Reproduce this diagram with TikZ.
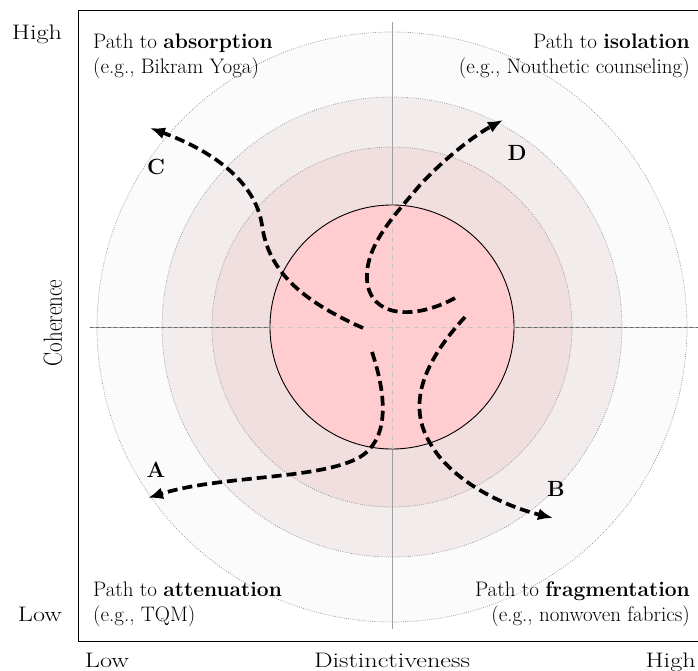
\documentclass[tikz,border=0pt]{standalone}
\usetikzlibrary{arrows.meta}

\definecolor{core}{RGB}{255,204,207}
\definecolor{ringone}{RGB}{241,223,224}
\definecolor{ringtwo}{RGB}{243,236,237}
\definecolor{ringthree}{RGB}{252,251,251}

\begin{document}
\begin{tikzpicture}[
    x=1pt, y=1pt,
    >=Latex, % LaTeX arrows
    % Styles
    ring/.style={ % Dotted rings round the core
        draw=gray!85,
        dash pattern=on 0.8pt off 1.4pt,
        line width=0.7pt
    },
    axisline/.style={
        draw=gray!75,
        line width=0.9pt
    },
    inaxis/.style={ % Axes across the core
        draw=gray!45,
        dash pattern=on 5pt off 4pt,
        line width=0.8pt
    },
    trail/.style={ % Dashed paths out of the core
        -{Latex[length=15pt,width=12pt]},
        line width=3.7pt,
        dash pattern=on 10pt off 5pt
    },
    axlabel/.style={ % Low / High and axis names
        font=\fontsize{21}{25}\selectfont,
        xscale=1.25,
        transform shape,
        inner sep=0pt
    },
    quad/.style={ % Quadrant captions
        font=\fontsize{21}{25}\selectfont,
        inner sep=0pt
    },
    letter/.style={
        font=\fontsize{22}{26}\selectfont\bfseries,
        inner sep=0pt
    }
]
    \useasboundingbox (-392,-343) rectangle (306,327);

    % Rings
    \coordinate (O) at (0,0);
    \fill[ringthree] (O) circle (295);
    \draw[ring] (O) circle (295);
    \fill[ringtwo] (O) circle (230);
    \draw[ring] (O) circle (230);
    \fill[ringone] (O) circle (180);
    \draw[ring] (O) circle (180);

    % Axes
    \coordinate (xl) at (-302,0);
    \coordinate (xr) at (306,0);
    \coordinate (yt) at (0,305);
    \coordinate (yb) at (0,-302);
    \draw[axisline] (yb) -- (yt);
    \draw[axisline] (xl) -- (xr);
    \draw[black!60, dashed, line width=0.5pt] (xl) -- (xr);

    % Core
    \node[circle, draw, fill=core, line width=0.9pt, minimum size=244pt, inner sep=0pt] (core) at (O) {};
    \draw[inaxis] (core.west) -- (core.east);
    \draw[inaxis] (core.south) -- (core.north);

    % Frame
    \draw[line width=1pt] (306,316) -| (-313,-314) -- (306,-314);

    % Axis labels
    \node[axlabel, anchor=base] (hightop) at (-355,287) {High};
    \node[axlabel, anchor=base] (lowleft) at (-352,-294) {Low};
    \node[axlabel, anchor=base] (lowbottom) at (-285,-340) {Low};
    \node[axlabel, anchor=base] (xname) at (0,-340) {Distinctiveness};
    \node[axlabel, anchor=base east] (highright) at (304,-340) {High};
    \node[axlabel, rotate=90] (yname) at (-339,4) {Coherence};

    % Quadrant captions
    \node[quad, anchor=north west, align=left] (absorb) at (-299,293)
        {Path to \textbf{absorption}\\(e.g., Bikram Yoga)};
    \node[quad, anchor=north east, align=right] (isol) at (298,293)
        {Path to \textbf{isolation}\\(e.g., Nouthetic counseling)};
    \node[quad, anchor=south west, align=left] (atten) at (-299,-300)
        {Path to \textbf{attenuation}\\(e.g., TQM)};
    \node[quad, anchor=south east, align=right] (frag) at (298,-300)
        {Path to \textbf{fragmentation}\\(e.g., nonwoven fabrics)};

    % Path ends
    \coordinate (A0) at (-20,-25);
    \coordinate (A1) at (-244,-171);
    \coordinate (B0) at (73,10);
    \coordinate (B1) at (161,-191);
    \coordinate (C0) at (-29,-1);
    \coordinate (C1) at (-242,199);
    \coordinate (D0) at (63,29);
    \coordinate (D1) at (111,207);

    % Paths
    \draw[trail] (A0) .. controls (-4,-73) and (-4,-113) .. (-32,-130)
        .. controls (-72,-153) and (-172,-148) .. (A1);
    \draw[trail] (B0) .. controls (38,-28) and (12,-73) .. (38,-116)
        .. controls (58,-152) and (108,-178) .. (B1);
    \draw[trail] (C0) .. controls (-92,27) and (-124,57) .. (-130,102)
        .. controls (-137,147) and (-182,177) .. (C1);
    \draw[trail] (D0) .. controls (23,7) and (-22,9) .. (-25,47)
        .. controls (-27,82) and (3,112) .. (28,142)
        .. controls (53,169) and (83,192) .. (D1);

    % Path letters
    \node[letter] (A) at (-236,-143) {A};
    \node[letter] (B) at (164,-162) {B};
    \node[letter] (C) at (-236,160) {C};
    \node[letter] (D) at (125,174) {D};
\end{tikzpicture}
\end{document}
